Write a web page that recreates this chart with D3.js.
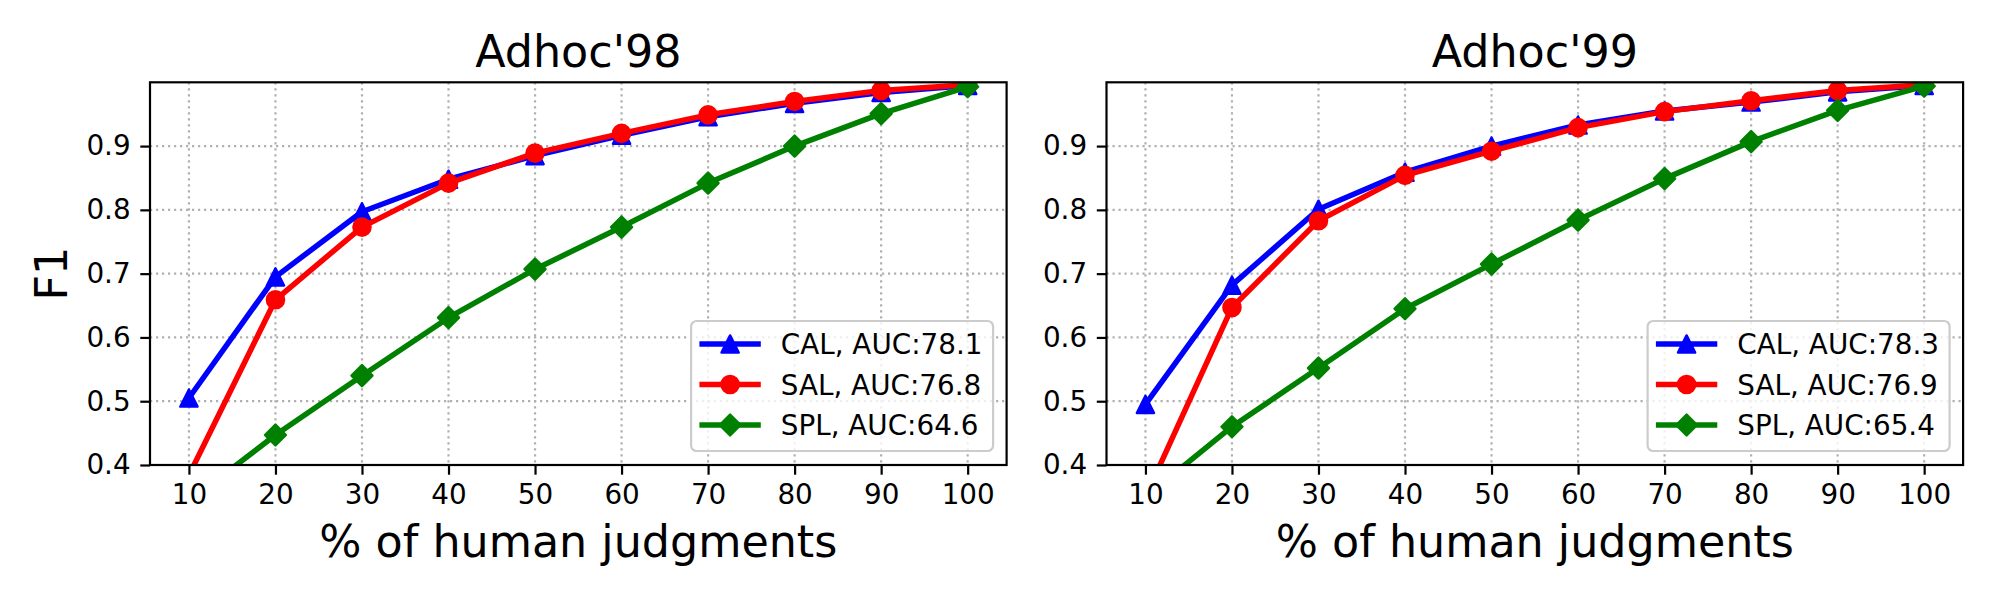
<!DOCTYPE html>
<html>
<head>
<meta charset="utf-8">
<script src="https://cdn.jsdelivr.net/npm/d3@7/dist/d3.min.js"></script>
<style>
  body { margin: 0; background: #fff; }
  text { font-family: "DejaVu Sans", sans-serif; fill: #000; }
</style>
</head>
<body>
<div class="canvas"></div>
<script>
// x positions (% of judgments)
const percents = [10, 20, 30, 40, 50, 60, 70, 80, 90, 100];
const yTicks = [0.4, 0.5, 0.6, 0.7, 0.8, 0.9];
const panelTitles = ["Adhoc'98", "Adhoc'99"];
const methods = ["CAL", "SAL", "SPL"];

// F1, Adhoc'98
const cal98 = [0.505, 0.695, 0.797, 0.848, 0.885, 0.917, 0.946, 0.967, 0.984, 0.995];
const sal98 = [0.384, 0.659, 0.773, 0.842, 0.889, 0.920, 0.949, 0.970, 0.987, 0.996];
const spl98 = [0.343, 0.447, 0.540, 0.631, 0.707, 0.773, 0.842, 0.900, 0.951, 0.993];
const auc98 = [78.1, 76.8, 64.6];

// Adhoc'99
const cal99 = [0.495, 0.682, 0.801, 0.859, 0.900, 0.933, 0.955, 0.969, 0.985, 0.995];
const sal99 = [0.350, 0.647, 0.783, 0.854, 0.892, 0.929, 0.954, 0.971, 0.987, 0.996];
const spl99 = [0.350, 0.460, 0.552, 0.645, 0.715, 0.784, 0.849, 0.907, 0.956, 0.994];
const auc99 = [78.3, 76.9, 65.4];

const panels = [
  { title: panelTitles[0], series: [cal98, sal98, spl98], auc: auc98 },
  { title: panelTitles[1], series: [cal99, sal99, spl99], auc: auc99 },
];

// dimensions (px)
const dims = { width: 2000, height: 600, plotW: 856.6, top: 82.3, bottom: 465 };
const panelLeft = [150, 1106.5];
const tickLen = 9.7;
const lw = 5.5;

// marker shapes
const markerPath = {
  tri: "M0,-8.6L8.6,8.6L-8.6,8.6Z",
  dia: "M0,-10.5L10.5,0L0,10.5L-10.5,0Z",
};
const styles = {
  CAL: { color: "#0000ff", marker: "tri" },
  SAL: { color: "#ff0000", marker: "circle" },
  SPL: { color: "#008000", marker: "dia" },
};

const svg = d3
  .select(".canvas")
  .append("svg")
  .attr("width", dims.width)
  .attr("height", dims.height);

// scales shared by both panels
const x = d3.scaleLinear().domain([5.5, 104.5]).range([0, dims.plotW]);
const y = d3.scaleLinear().domain([0.4, 1.0]).range([dims.bottom - dims.top, 0]);
const h = dims.bottom - dims.top;

const drawMarker = (g, type, color) => {
  if (type === "circle") {
    g.append("circle").attr("r", 8.6);
  } else {
    g.append("path").attr("d", markerPath[type]);
  }
  g.selectAll("circle, path")
    .attr("fill", color)
    .attr("stroke", color)
    .attr("stroke-width", 2.4)
    .attr("stroke-linejoin", "round");
};

panels.forEach((p, pi) => {
  const graph = svg
    .append("g")
    .attr("transform", `translate(${panelLeft[pi]}, ${dims.top})`);

  graph.append("clipPath").attr("id", `clip${pi}`)
    .append("rect").attr("width", dims.plotW).attr("height", h);

  // grid
  const grid = graph.append("g")
    .attr("stroke", "#b0b0b0")
    .attr("stroke-width", 2.2)
    .attr("stroke-dasharray", "2.2,3.8");
  grid.selectAll("line.gx").data(percents).enter().append("line")
    .attr("x1", d => x(d)).attr("x2", d => x(d))
    .attr("y1", 0).attr("y2", h);
  grid.selectAll("line.gy").data(yTicks).enter().append("line")
    .attr("x1", 0).attr("x2", dims.plotW)
    .attr("y1", d => y(d)).attr("y2", d => y(d));

  // lines + markers, clipped to the axes
  const plot = graph.append("g").attr("clip-path", `url(#clip${pi})`);
  const line = d3.line().x((d, i) => x(percents[i])).y(d => y(d));
  p.series.forEach((vals, si) => {
    const st = styles[methods[si]];
    plot.append("path")
      .datum(vals)
      .attr("d", line)
      .attr("fill", "none")
      .attr("stroke", st.color)
      .attr("stroke-width", lw)
      .attr("stroke-linejoin", "round");
    plot.selectAll(`g.m${si}`)
      .data(vals)
      .enter()
      .append("g")
      .attr("class", `m${si}`)
      .attr("transform", (d, i) => `translate(${x(percents[i])}, ${y(d)})`)
      .each(function () { drawMarker(d3.select(this), st.marker, st.color); });
  });

  // axes
  const xAxis = d3.axisBottom(x).tickValues(percents).tickSize(tickLen).tickPadding(tickLen);
  const yAxis = d3.axisLeft(y).tickValues(yTicks).tickFormat(d3.format(".1f"))
    .tickSize(tickLen).tickPadding(tickLen);
  [graph.append("g").attr("transform", `translate(0, ${h})`).call(xAxis),
   graph.append("g").call(yAxis)].forEach(a => {
    a.select(".domain").remove();
    a.selectAll("line").attr("stroke", "#000").attr("stroke-width", 2.2);
    a.selectAll("text").attr("font-size", 27.8).attr("font-family", "DejaVu Sans").attr("fill", "#000");
  });

  // spines
  graph.append("rect")
    .attr("width", dims.plotW).attr("height", h)
    .attr("fill", "none").attr("stroke", "#000").attr("stroke-width", 2.2);

  // title + x label
  graph.append("text")
    .attr("x", dims.plotW / 2).attr("y", 66.7 - dims.top)
    .attr("text-anchor", "middle").attr("font-size", 44.4)
    .text(p.title);
  graph.append("text")
    .attr("x", dims.plotW / 2).attr("y", 556.7 - dims.top)
    .attr("text-anchor", "middle").attr("font-size", 44.4)
    .text("% of human judgments");

  // legend, lower right
  const legend = graph.append("g")
    .attr("transform", `translate(${dims.plotW - 315.5}, ${h - 144})`);
  legend.append("rect")
    .attr("width", 302).attr("height", 130).attr("rx", 5.5)
    .attr("fill", "#fff").attr("fill-opacity", 0.8)
    .attr("stroke", "#cccccc").attr("stroke-width", 2.2);
  methods.forEach((m, si) => {
    const st = styles[m];
    const row = legend.append("g").attr("transform", `translate(0, ${23 + si * 40.5})`);
    row.append("line")
      .attr("x1", 8.3).attr("x2", 69.7)
      .attr("stroke", st.color).attr("stroke-width", lw);
    const mk = row.append("g").attr("transform", "translate(39, 0)");
    drawMarker(mk, st.marker, st.color);
    row.append("text")
      .attr("x", 89.7).attr("y", 10)
      .attr("font-size", 27.8)
      .text(`${m}, AUC:${p.auc[si]}`);
  });
});

// y label on the first panel only
svg.append("text")
  .attr("transform", `translate(67, ${dims.top + h / 2}) rotate(-90)`)
  .attr("text-anchor", "middle")
  .attr("font-size", 44.4)
  .text("F1");
</script>
</body>
</html>
